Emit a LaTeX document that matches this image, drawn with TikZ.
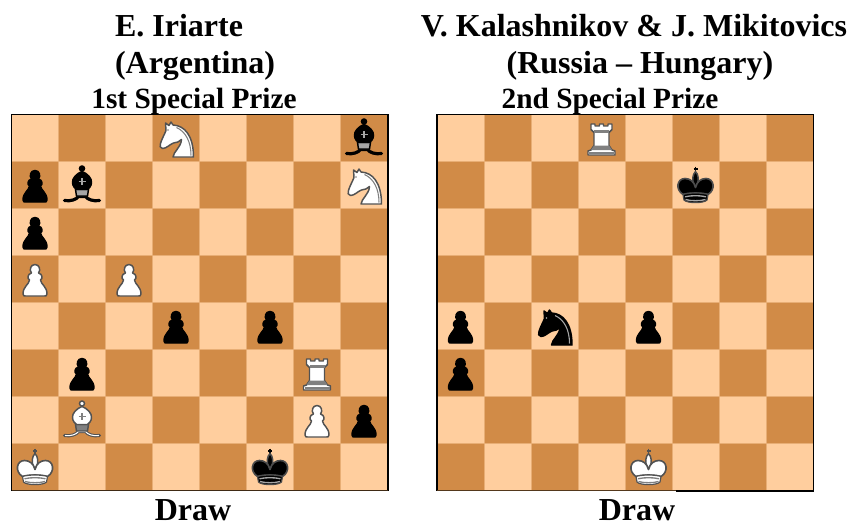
\documentclass[tikz,border=0pt]{standalone}
\usepackage{fontspec}
\setmainfont{Liberation Serif}
\usetikzlibrary{positioning, calc}
\definecolor{lightsq}{HTML}{FFCE9E}
\definecolor{darksq}{HTML}{D18B47}
\definecolor{seamcol}{HTML}{E8AE75}
\tikzset{
    bigtitle/.style={font=\fontsize{24}{26}\selectfont\bfseries, anchor=base, inner sep=0pt},
    prizetitle/.style={font=\fontsize{22}{24}\selectfont\bfseries, anchor=base, inner sep=0pt},
    blackset/.code={\colorlet{pfill}{black}\colorlet{pline}{black}\colorlet{pdetail}{white!65!black}\colorlet{prim}{black!70}},
    whiteset/.code={\colorlet{pfill}{white}\colorlet{pline}{black!68}\colorlet{pdetail}{black!50}\colorlet{prim}{black!68}},
    % Pieces, drawn in a 47 x 47 square from its top left corner
    pawnpiece/.pic={
        \path[fill=pfill, draw=pline, line width=1.1pt, line join=round]
            (20,17.5) .. controls (17.5,14.5) and (19,9) .. (23.5,9) .. controls (28,9) and (29.5,14.5) .. (27,17.5)
            .. controls (31,18.5) and (31.5,23) .. (29,24.5) .. controls (29.5,29) and (35.5,31) .. (35.5,38.5)
            .. controls (35.5,40.5) and (34,40.5) .. (33,40.5) -- (14,40.5) .. controls (13,40.5) and (11.5,40.5) .. (11.5,38.5)
            .. controls (11.5,31) and (17.5,29) .. (18,24.5) .. controls (15.5,23) and (16,18.5) .. (20,17.5) -- cycle;
    },
    rookpiece/.pic={
        \path[fill=pfill, draw=pline, line width=1.1pt, line join=round]
            (13,9.5) -- (17,9.5) -- (17,11.5) -- (21.5,11.5) -- (21.5,9.5) -- (25.5,9.5) -- (25.5,11.5) -- (30,11.5)
            -- (30,9.5) -- (34,9.5) -- (34,15) -- (31,18) -- (31,31) -- (34,35.5) -- (37,36.5) -- (37,40.5)
            -- (10,40.5) -- (10,36.5) -- (13,35.5) -- (16,31) -- (16,18) -- (13,15) -- cycle;
        \fill[pdetail] (16,15) -- (31,15) -- (31,18) -- (16,18) -- cycle;
        \fill[pdetail] (16,31) -- (31,31) -- (34,35.5) -- (13,35.5) -- cycle;
        \fill[pdetail] (11,37.5) rectangle (36,39.5);
    },
    bishoppiece/.pic={
        \draw[pline, line width=2.4pt, line cap=round]
            (6,39) .. controls (12,40) and (18,38) .. (20,35) -- (27,35) .. controls (29,38) and (35,40) .. (41,39);
        \draw[pfill, line width=0.8pt, line cap=round]
            (7,39) .. controls (12,39.8) and (18,38) .. (20,35) -- (27,35) .. controls (29,38) and (35,39.8) .. (40,39);
        \path[fill=pfill, draw=pline, line width=1.1pt] (23.5,7) circle (2.5);
        \path[fill=pdetail, draw=pline, line width=1.1pt]
            (17,28) -- (30,28) -- (29,34.5) -- (18,34.5) -- cycle;
        \path[fill=pfill, draw=pline, line width=1.1pt]
            (23.5,10) .. controls (29,12) and (33.5,17) .. (33,21) .. controls (33,25) and (30,27) .. (29,28)
            -- (18,28) .. controls (17,27) and (14,25) .. (14,21) .. controls (13.5,17) and (18,12) .. (23.5,10) -- cycle;
        \draw[pdetail, line width=1.3pt] (23.5,16.5) -- (23.5,23.5) (20,20) -- (27,20);
    },
    knightpiece/.pic={
        \path[fill=pfill, draw=pline, line width=1.1pt, line join=round]
            (20.5,42.5) .. controls (21,37) and (28.5,33) .. (29,25) .. controls (27,28) and (24,27.5) .. (21,28.5)
            .. controls (17,30) and (14,34) .. (10,34) .. controls (7.5,34) and (7,31) .. (8,29)
            .. controls (9,25) and (12,20) .. (13.5,16) -- (13,8.5) -- (16.5,11) -- (18.5,7.5) -- (20.5,10.5)
            .. controls (32,11) and (41,21) .. (41,42.5) -- cycle;
        \draw[pdetail, line width=0.8pt] (24,13) .. controls (33,17) and (38.5,27) .. (38.5,41);
        \fill[pdetail] (15.5,15.5) circle (0.9);
    },
    kingpiece/.pic={
        \draw[pline, line width=1pt] (23.5,5) -- (23.5,10) (21.5,7.5) -- (25.5,7.5);
        \path[fill=pfill, draw=prim, line width=1.1pt]
            (23.5,10) .. controls (26.5,13) and (27,18) .. (25,24) -- (22,24) .. controls (20,18) and (20.5,13) .. (23.5,10) -- cycle;
        \path[fill=pfill, draw=prim, line width=1.2pt, line join=round]
            (11,33) .. controls (3,28) and (5,17) .. (13,17) .. controls (18,17) and (22,20) .. (23.5,26)
            .. controls (25,20) and (29,17) .. (34,17) .. controls (42,17) and (44,28) .. (36,33)
            .. controls (30,31) and (17,31) .. (11,33) -- cycle;
        \path[fill=pfill, draw=prim, line width=0.9pt]
            (11,33) .. controls (17,31) and (30,31) .. (36,33) -- (35,38.5) .. controls (32,42) and (15,42) .. (12,38.5) -- cycle;
        \draw[pdetail, line width=1pt] (13,35.3) .. controls (19,33.8) and (28,33.8) .. (34,35.3)
            (13.5,38) .. controls (19,39.6) and (28,39.6) .. (33.5,38);
    }
}

\begin{document}
\begin{tikzpicture}[x=0.75pt, y=-0.75pt]
    \useasboundingbox (0,0) rectangle (852,522);

    % Titles, left
    \node[bigtitle] (nameA) at (179,36) {E. Iriarte};
    \node[bigtitle] (countryA) at (195,73) {(Argentina)};
    \node[prizetitle] (prizeA) at (194,108) {1st Special Prize};
    \node[bigtitle] (drawA) at (193,520) {Draw};

    % Titles, right
    \node[bigtitle] (nameB) at (634,36) {V. Kalashnikov \& J. Mikitovics};
    \node[bigtitle] (countryB) at (640,73) {(Russia -- Hungary)};
    \node[prizetitle] (prizeB) at (610,108) {2nd Special Prize};
    \node[bigtitle] (drawB) at (637,520) {Draw};

    % Boards
    \foreach \bx in {11.5,437} {
        \fill[lightsq] (\bx,114.5) rectangle ++(376.5,376);
        \foreach \col in {0,...,7} {
            \foreach \row in {0,...,7} {
                \pgfmathparse{int(mod(\col+\row,2))}
                \ifnum\pgfmathresult=1
                    \fill[darksq] ({\bx+47*\col},{114.5+47*\row}) rectangle ++(47,47);
                \fi
            }
        }
        \foreach \k in {1,...,7} {
            \draw[seamcol, line width=0.5pt] ({\bx+47*\k},114.5) -- ++(0,376);
            \draw[seamcol, line width=0.5pt] (\bx,{114.5+47*\k}) -- ++(376.5,0);
        }
        \draw[line width=0.9pt] (\bx,490.5) -- (\bx,114.5) -- ++(376.5,0) -- ++(0,376);
    }
    % Bottom edges
    \draw[black!70!darksq, line width=0.9pt] (11.5,490.5) -- (388,490.5);
    \draw[black!60!darksq, line width=0.7pt] (437,490.5) -- (676,490.5);
    \draw[line width=0.9pt] (676,491) -- (813.5,491);

    % Black pieces
    \foreach \bx/\col/\row/\kind in {11.5/7/0/bishoppiece, 11.5/0/1/pawnpiece, 11.5/1/1/bishoppiece, 11.5/0/2/pawnpiece,
        11.5/3/4/pawnpiece, 11.5/5/4/pawnpiece, 11.5/1/5/pawnpiece, 11.5/7/6/pawnpiece, 11.5/5/7/kingpiece,
        437/5/1/kingpiece, 437/0/4/pawnpiece, 437/2/4/knightpiece, 437/4/4/pawnpiece, 437/0/5/pawnpiece} {
        \pic[blackset] at ({\bx+47*\col},{114.5+47*\row}) {\kind};
    }

    % White pieces
    \foreach \bx/\col/\row/\kind in {11.5/3/0/knightpiece, 11.5/7/1/knightpiece, 11.5/0/3/pawnpiece, 11.5/2/3/pawnpiece,
        11.5/6/5/rookpiece, 11.5/1/6/bishoppiece, 11.5/6/6/pawnpiece, 11.5/0/7/kingpiece, 437/3/0/rookpiece, 437/4/7/kingpiece} {
        \pic[whiteset] at ({\bx+47*\col},{114.5+47*\row}) {\kind};
    }
\end{tikzpicture}
\end{document}
